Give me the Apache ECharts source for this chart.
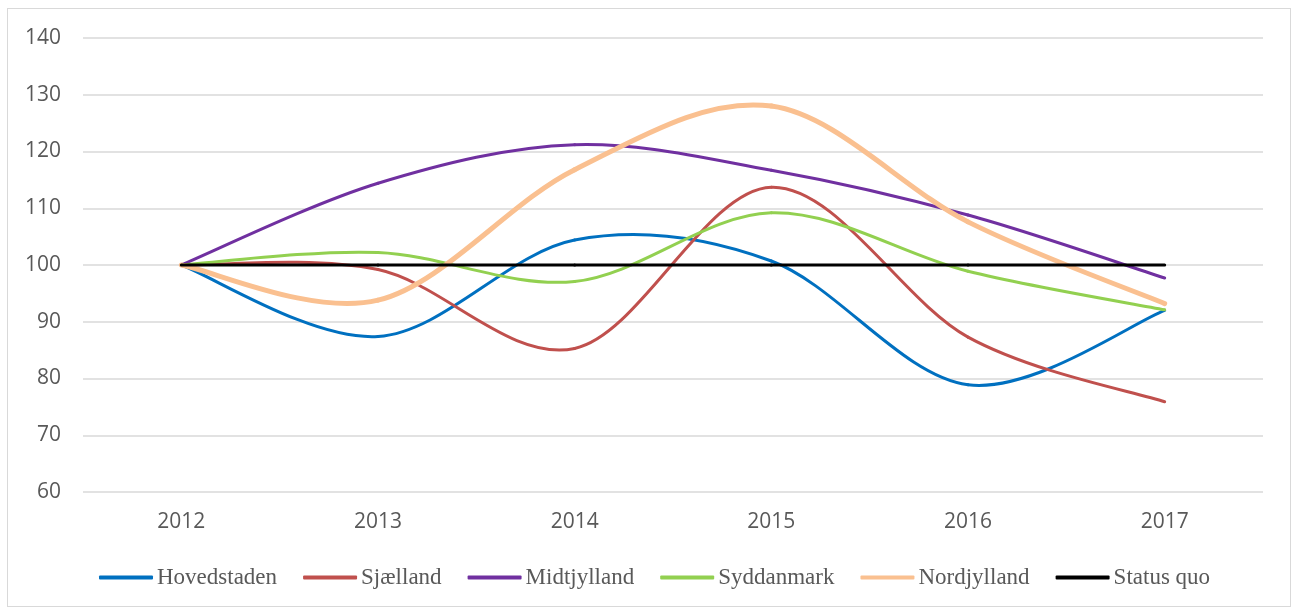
<!DOCTYPE html>
<html><head><meta charset="utf-8">
<script src="https://cdn.jsdelivr.net/npm/echarts@6/dist/echarts.min.js"></script>
<style>html,body{margin:0;padding:0;background:#fff}#c{width:1291px;height:607px}
#frame{position:absolute;left:7px;top:8px;width:1284px;height:599px;border:1px solid #d9d9d9;box-sizing:border-box;pointer-events:none}</style>
</head><body><div id="c"></div><div id="frame"></div>
<script>
const categories = ['2012','2013','2014','2015','2016','2017'];
const hovedstaden = [100, 87.4, 104.4, 100.7, 78.9, 92];
const sjaelland = [100, 99.2, 85.3, 113.7, 87.3, 75.9];
const midtjylland = [100, 114.4, 121.2, 116.7, 108.8, 97.7];
const syddanmark = [100, 102.2, 97.1, 109.2, 98.9, 92.1];
const nordjylland = [100, 93.8, 116.8, 128.0, 107.6, 93.2];
const statusQuo = [100, 100, 100, 100, 100, 100];
const names = ['Hovedstaden','Sjælland','Midtjylland','Syddanmark','Nordjylland','Status quo'];
const colors = ['#0070C0','#C0504D','#7030A0','#92D050','#FAC090','#000000'];
const widths = [3,3,3,3,5,3];
const datas = [hovedstaden, sjaelland, midtjylland, syddanmark, nordjylland, statusQuo];

function makeRender(arr, color, width, smooth) {
  return function (params, api) {
    const i = params.dataIndex;
    if (i >= arr.length - 1) return null;
    const n = arr.length;
    const P = k => { const c = Math.max(0, Math.min(n - 1, k)); return api.coord([c, arr[c]]); };
    const p0 = P(i - 1), p1 = P(i), p2 = P(i + 1), p3 = P(i + 2);
    if (smooth) {
      return {type: 'bezierCurve', shape: {
          x1: p1[0], y1: p1[1], x2: p2[0], y2: p2[1],
          cpx1: p1[0] + (p2[0] - p0[0]) / 6, cpy1: p1[1] + (p2[1] - p0[1]) / 6,
          cpx2: p2[0] - (p3[0] - p1[0]) / 6, cpy2: p2[1] - (p3[1] - p1[1]) / 6
        },
        style: {stroke: color, lineWidth: width, fill: null, lineCap: 'round'}};
    }
    return {type: 'line', shape: {x1: p1[0], y1: p1[1], x2: p2[0], y2: p2[1]},
      style: {stroke: color, lineWidth: width, lineCap: 'round'}};
  };
}

const chart = echarts.init(document.getElementById('c'));
chart.setOption({
  animation: false,
  grid: {left: 83, right: 28, top: 38, bottom: 115},
  legend: {
    top: 561, left: 94, itemWidth: 54, itemHeight: 4, itemGap: 26,
    textStyle: {fontFamily: 'Liberation Serif', fontSize: 23, color: '#595959', padding: [0,0,0,-1]},
    data: names.map((n, i) => ({name: n, icon: 'roundRect', itemStyle: {color: colors[i]}}))
  },
  xAxis: {
    type: 'category', data: categories, boundaryGap: true,
    axisLine: {show: false}, axisTick: {show: false},
    axisLabel: {fontFamily: 'Open Sans', fontSize: 21, color: '#595959', margin: 20},
    splitLine: {show: false}
  },
  yAxis: {
    type: 'value', min: 60, max: 140, interval: 10,
    axisLine: {show: false}, axisTick: {show: false},
    axisLabel: {fontFamily: 'Open Sans', fontSize: 21, color: '#595959', margin: 22},
    splitLine: {lineStyle: {color: '#d9d9d9', width: 1.5}}
  },
  series: datas.map((d, i) => ({
    name: names[i], type: 'custom', z: i === 5 ? 10 : 2 + i,
    itemStyle: {color: colors[i]},
    data: d.map((v, k) => [k, v]),
    encode: {x: 0, y: 1},
    renderItem: makeRender(d, colors[i], widths[i], i !== 5)
  }))
});
</script></body></html>
